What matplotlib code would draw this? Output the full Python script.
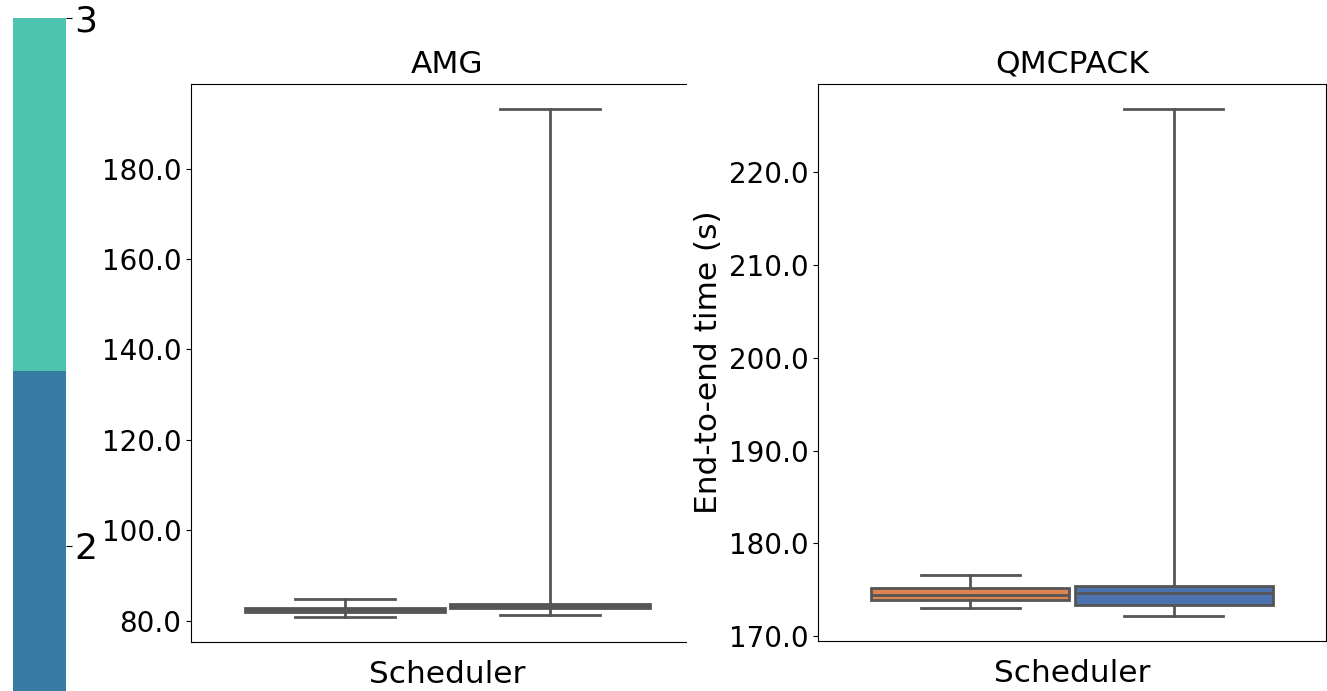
import matplotlib
matplotlib.use("Agg")
import matplotlib.pyplot as plt
from matplotlib.colors import ListedColormap, Normalize
from matplotlib.ticker import FormatStrFormatter
import matplotlib.colorbar as mcolorbar

# Data (box statistics)
schedulers = ["A", "B"]
box_colors = ["#dd8452", "#4c72b0"]

amg_whislo = [80.9, 81.3]
amg_q1 = [82.0, 82.7]
amg_med = [82.4, 83.2]
amg_q3 = [82.9, 83.6]
amg_whishi = [84.8, 193.1]

qmc_whislo = [173.05, 172.2]
qmc_q1 = [173.85, 173.3]
qmc_med = [174.4, 174.6]
qmc_q3 = [175.15, 175.4]
qmc_whishi = [176.6, 226.8]

cbar_colors = ["#367ba3", "#4cc4ae"]
cbar_ticks = [2, 3]

amg_yticks = [80, 100, 120, 140, 160, 180]
qmc_yticks = [170, 180, 190, 200, 210, 220]

W, H = 1327, 691
fig = plt.figure(figsize=(W / 100, H / 100), dpi=100)

def fr(l, t, r, b):
    return [l / W, (H - b) / H, (r - l) / W, (b - t) / H]

line_col = "#555555"
LAB = 22.5

def draw(ax, lo, q1, med, q3, hi):
    stats = []
    for i in range(len(schedulers)):
        stats.append(dict(whislo=lo[i], q1=q1[i], med=med[i], q3=q3[i],
                          whishi=hi[i], fliers=[], label=schedulers[i]))
    bp = ax.bxp(stats, positions=[-0.2, 0.2], widths=0.39, patch_artist=True,
                showfliers=False,
                boxprops=dict(edgecolor=line_col, linewidth=2.0),
                medianprops=dict(color=line_col, linewidth=2.0),
                whiskerprops=dict(color=line_col, linewidth=2.0),
                capprops=dict(color=line_col, linewidth=2.0),
                manage_ticks=False)
    for patch, c in zip(bp["boxes"], box_colors):
        patch.set_facecolor(c)
    ax.set_xlim(-0.5, 0.5)
    ax.set_xticks([])
    ax.set_xlabel("Scheduler", fontsize=LAB, labelpad=13)
    ax.tick_params(axis="y", labelsize=20)
    ax.yaxis.set_major_formatter(FormatStrFormatter("%.1f"))

# Colorbar
cax = fig.add_axes(fr(13, 18, 66, 725))
cmap = ListedColormap(cbar_colors)
cb = mcolorbar.ColorbarBase(cax, cmap=cmap, norm=Normalize(vmin=1.66, vmax=3),
                            orientation="vertical")
cb.set_ticks(cbar_ticks)
cb.set_ticklabels([str(t) for t in cbar_ticks])
cb.outline.set_visible(False)
cax.tick_params(labelsize=26, length=4, pad=2)

# AMG
ax1 = fig.add_axes(fr(191, 84, 704, 642))
draw(ax1, amg_whislo, amg_q1, amg_med, amg_q3, amg_whishi)
ax1.set_title("AMG", fontsize=LAB, pad=8)
ax1.set_yticks(amg_yticks)
ax1.spines["right"].set_visible(False)
ax1.spines["top"].set_bounds(-0.5, 0.465)
ax1.spines["bottom"].set_bounds(-0.5, 0.465)

# QMCPACK
ax2 = fig.add_axes(fr(818, 84, 1326, 641))
draw(ax2, qmc_whislo, qmc_q1, qmc_med, qmc_q3, qmc_whishi)
ax2.set_title("QMCPACK", fontsize=LAB, pad=8)
ax2.set_yticks(qmc_yticks)
ax2.set_ylabel("End-to-end time (s)", fontsize=LAB)

fig.savefig("out.png", dpi=100)
